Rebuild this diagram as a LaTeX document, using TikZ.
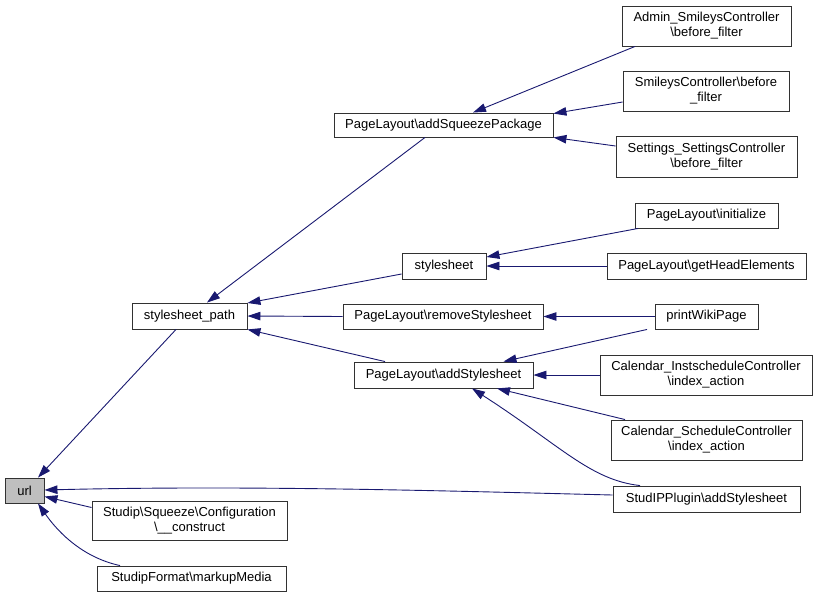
\documentclass[tikz,border=0pt]{standalone}
\usepackage{fontspec}
\setmainfont{Liberation Sans}
\usetikzlibrary{arrows.meta}
\definecolor{edgeblue}{RGB}{25,25,112}
\definecolor{urlgray}{RGB}{191,191,191}
\definecolor{boxline}{RGB}{50,50,50}
\begin{document}
\begin{tikzpicture}[x=1pt,y=-1pt,
  box/.style={draw=boxline, line width=0.9pt, fill=white, inner sep=0pt, align=center,
    font=\fontsize{13}{15}\selectfont},
  edge/.style={draw=edgeblue, line width=0.9pt, {Triangle[length=13pt,width=8.5pt]}-}]
\useasboundingbox (0,0) rectangle (817,598);
% nodes
\node[box, fill=urlgray, minimum width=39pt, minimum height=25pt] (url) at (24.5,490.5) {url};
\node[box, minimum width=195pt, minimum height=39pt] (sq) at (189.5,520.5) {Studip\textbackslash Squeeze\textbackslash Configuration\\\textbackslash\_\_construct};
\node[box, minimum width=189pt, minimum height=25pt] (mm) at (191.5,578.5) {StudipFormat\textbackslash markupMedia};
\node[box, minimum width=115pt, minimum height=26pt] (sp) at (189.5,316) {stylesheet\_path};
\node[box, minimum width=219pt, minimum height=24pt] (asp) at (443.5,125) {PageLayout\textbackslash addSqueezePackage};
\node[box, minimum width=169pt, minimum height=40pt] (adm) at (706.5,26) {Admin\_SmileysController\\\textbackslash before\_filter};
\node[box, minimum width=166pt, minimum height=40pt] (sm) at (706,91) {SmileysController\textbackslash before\\\_filter};
\node[box, minimum width=181pt, minimum height=41pt] (st) at (706.5,156.5) {Settings\_SettingsController\\\textbackslash before\_filter};
\node[box, minimum width=84pt, minimum height=26pt] (ss) at (444,266) {stylesheet};
\node[box, minimum width=143pt, minimum height=25pt] (init) at (706.5,215.5) {PageLayout\textbackslash initialize};
\node[box, minimum width=199pt, minimum height=26pt] (gh) at (706.5,266) {PageLayout\textbackslash getHeadElements};
\node[box, minimum width=200pt, minimum height=25pt] (rs) at (443,316.5) {PageLayout\textbackslash removeStylesheet};
\node[box, minimum width=103pt, minimum height=25pt] (pw) at (706.5,316.5) {printWikiPage};
\node[box, minimum width=179pt, minimum height=26pt] (as) at (443.5,375) {PageLayout\textbackslash addStylesheet};
\node[box, minimum width=212pt, minimum height=40pt] (ci) at (706,375) {Calendar\_InstscheduleController\\\textbackslash index\_action};
\node[box, minimum width=191pt, minimum height=40pt] (cs) at (706.5,440) {Calendar\_ScheduleController\\\textbackslash index\_action};
\node[box, minimum width=187pt, minimum height=26pt] (sip) at (706.5,499) {StudIPPlugin\textbackslash addStylesheet};
% edges
\draw[edge] ([xshift=13.5pt]url.north) -- ([xshift=-13.5pt]sp.south);
\draw[edge] ([yshift=0.5pt]url.east) .. controls (250,485) and (450,491) .. ([yshift=4pt]sip.west);
\draw[edge] ([yshift=-6pt]url.east) -- ([yshift=13pt]sq.west);
\draw[edge] ([xshift=13.5pt]url.south) .. controls (60,535) and (85,558) .. ([xshift=-71.5pt]mm.north);
\draw[edge] ([xshift=17.5pt]sp.north) -- ([xshift=-18.5pt]asp.south);
\draw[edge] ([yshift=13pt]sp.east) -- ([yshift=-8pt]ss.west);
\draw[edge] (sp.east) -- (rs.west);
\draw[edge] (sp.south east) -- ([xshift=-58.5pt]as.north);
\draw[edge] ([xshift=29.5pt]asp.north) -- ([xshift=-71.5pt]adm.south);
\draw[edge] ([yshift=-1pt]asp.north east) -- ([yshift=-11pt]sm.west);
\draw[edge] (asp.south east) -- ([yshift=10.5pt]st.west);
\draw[edge] ([yshift=9pt]ss.east) -- ([xshift=-68.5pt]init.south);
\draw[edge] (ss.east) -- (gh.west);
\draw[edge] (rs.east) -- (pw.west);
\draw[edge] ([xshift=60pt]as.north) -- ([xshift=-59.5pt]pw.south);
\draw[edge] (as.east) -- (ci.west);
\draw[edge] ([xshift=53.5pt]as.south) -- ([xshift=-81.5pt]cs.north);
\draw[edge] ([xshift=28.5pt]as.south) .. controls (560,445) and (590,480) .. ([xshift=-66.5pt]sip.north);
\end{tikzpicture}
\end{document}
